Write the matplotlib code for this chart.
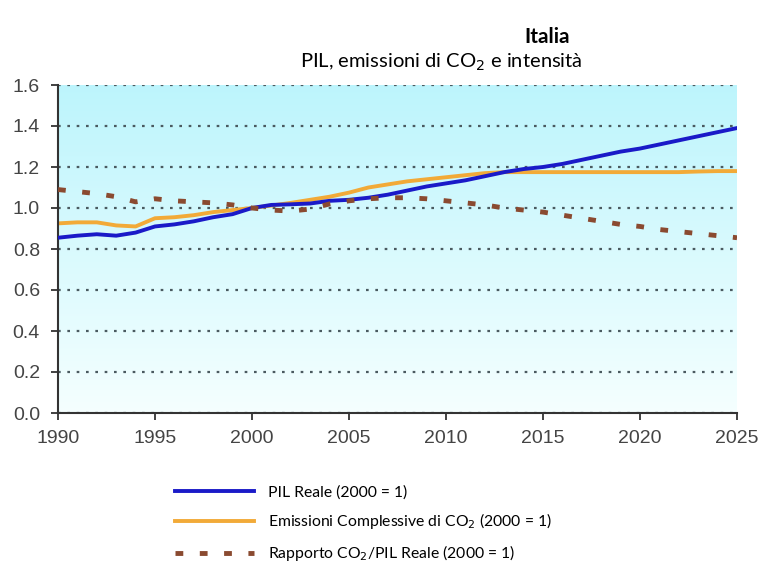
import matplotlib
matplotlib.use("Agg")
import matplotlib.pyplot as plt
import numpy as np
from matplotlib.lines import Line2D

years = list(range(1990, 2026))
pil = [0.855, 0.865, 0.872, 0.865, 0.88, 0.91, 0.92, 0.935, 0.955, 0.97,
       1.00, 1.015, 1.018, 1.022, 1.035, 1.04, 1.05, 1.065, 1.085, 1.105,
       1.12, 1.135, 1.155, 1.175, 1.19, 1.20, 1.215, 1.235, 1.255, 1.275,
       1.29, 1.31, 1.33, 1.35, 1.37, 1.39]
emis = [0.925, 0.93, 0.93, 0.915, 0.91, 0.95, 0.955, 0.965, 0.98, 0.99,
        1.00, 1.012, 1.025, 1.04, 1.055, 1.075, 1.10, 1.115, 1.13, 1.14,
        1.15, 1.16, 1.17, 1.175, 1.175, 1.175, 1.175, 1.175, 1.175, 1.175,
        1.175, 1.175, 1.175, 1.178, 1.18, 1.18]
ratio = [1.09, 1.08, 1.07, 1.055, 1.03, 1.045, 1.035, 1.03, 1.025, 1.015,
         1.00, 0.99, 0.985, 0.995, 1.02, 1.035, 1.045, 1.05, 1.05, 1.045,
         1.035, 1.025, 1.015, 1.0, 0.99, 0.98, 0.965, 0.95, 0.935, 0.92,
         0.91, 0.895, 0.885, 0.875, 0.865, 0.855]
yticks = [0.0, 0.2, 0.4, 0.6, 0.8, 1.0, 1.2, 1.4, 1.6]
xticks = [1990, 1995, 2000, 2005, 2010, 2015, 2020, 2025]
labels = ["PIL Reale (2000 = 1)",
          "Emissioni Complessive di CO$_2$ (2000 = 1)",
          "Rapporto CO$_2$/PIL Reale (2000 = 1)"]

W, H = 763, 562
fig = plt.figure(figsize=(W/100, H/100), dpi=100)
ax = fig.add_axes([58/W, 1-413/H, (737-58)/W, (413-85)/H])

grad = np.linspace(0, 1, 256).reshape(-1, 1)
top = np.array([0.74, 0.96, 0.99])
bot = np.array([0.96, 1.0, 1.0])
img = top[None, None, :]*(1-grad[:, :, None]) + bot[None, None, :]*grad[:, :, None]
ax.imshow(img, extent=[0, 1, 0, 1], transform=ax.transAxes, aspect='auto', zorder=0)

for yv in yticks:
    ax.axhline(yv, color='#4a5a60', lw=1.6, ls=(0, (1.2, 3)), zorder=1)

ax.plot(years, pil, color='#1a1ac8', lw=2.8, zorder=3)
ax.plot(years, emis, color='#f2aa38', lw=2.8, zorder=2)
ax.plot(years, ratio, color='#8a4a30', lw=3.5, ls=(0, (1.6, 3.4)), zorder=4)

ax.set_xlim(1990, 2025)
ax.set_ylim(0, 1.6)
ax.set_xticks(xticks)
ax.set_yticks(yticks)
ax.set_yticklabels([f"{v:.1f}" for v in yticks])
for s in ['top', 'right']:
    ax.spines[s].set_visible(False)
for s in ['left', 'bottom']:
    ax.spines[s].set_color('#333333')
    ax.spines[s].set_linewidth(1.5)
ax.tick_params(axis='both', colors='#333333', labelcolor='#444444', labelsize=14,
               length=5, width=1.3, direction='out')
for t in ax.get_xticklabels() + ax.get_yticklabels():
    t.set_family('Liberation Sans')
ax.tick_params(axis='x', pad=7)
ax.tick_params(axis='y', pad=8)

fig.text(547/W, 1-37/H, "Italia", ha='center', va='center', fontsize=15,
         fontweight='bold', family='Lato')
fig.text(441/W, 1-62/H, "PIL, emissioni di CO$_2$ e intensità", ha='center', va='center',
         fontsize=14.5, family='Lato')

handles = [Line2D([], [], color='#1a1ac8', lw=2.8),
           Line2D([], [], color='#f2aa38', lw=2.8),
           Line2D([], [], color='#8a4a30', lw=3.5, ls=(0, (1.6, 3.4)))]
leg = fig.legend(handles, labels, loc='upper left', bbox_to_anchor=(172/W, 1-482/H),
                 frameon=False, handlelength=5.0, labelspacing=0.75,
                 prop={'family': 'Lato', 'size': 11.3}, handletextpad=0.9,
                 borderaxespad=0, borderpad=0.2)

fig.savefig("out.png", dpi=100)
